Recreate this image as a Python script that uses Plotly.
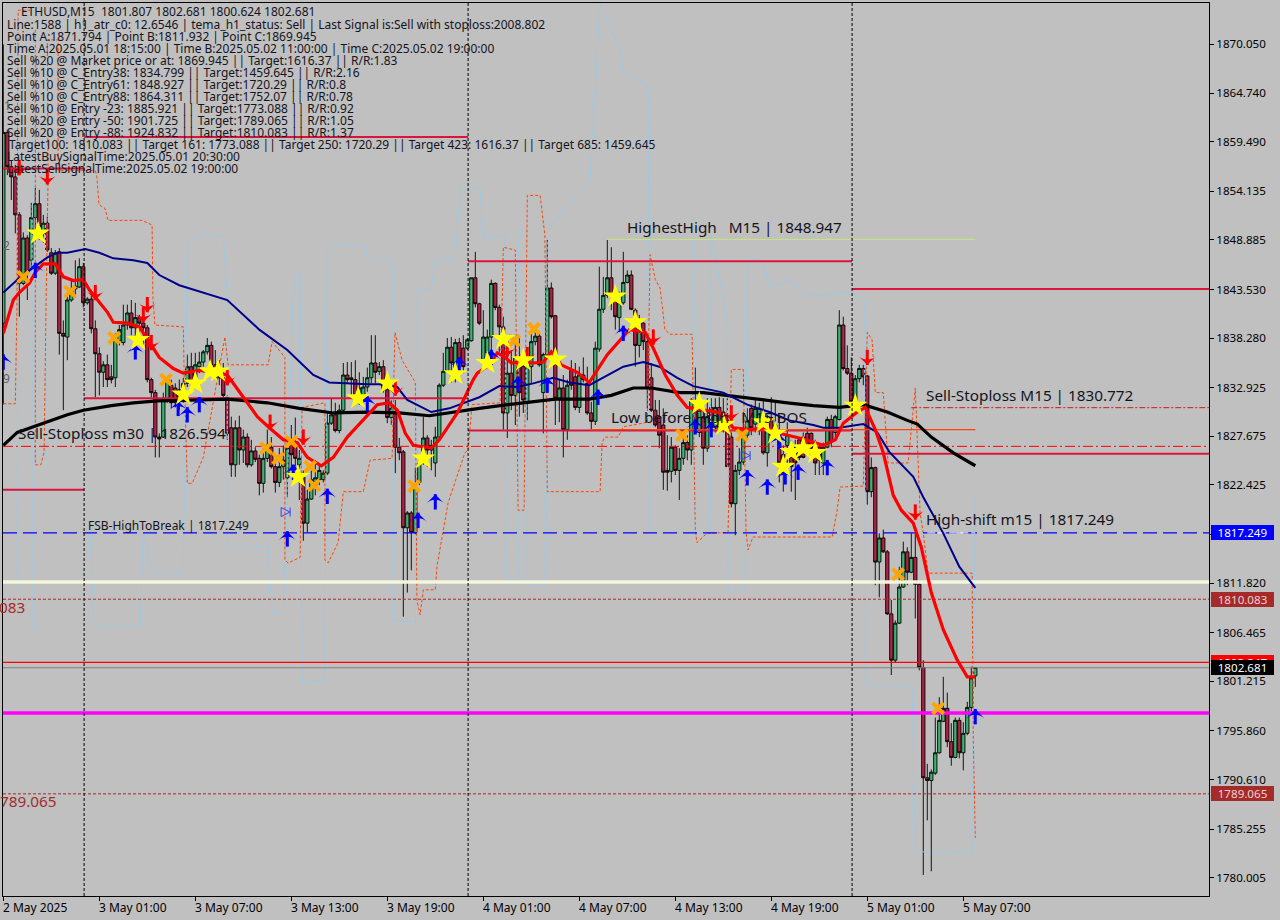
import plotly.graph_objects as go

opens=[1839.9,1860.5,1856.8,1855.7,1851.6,1844.2,1849.1,1846.7,1851.3,1852.8,1849.6,1850.7,1847.5,1845.3,1847.6,1838.8,1838.4,1842.4,1843.6,1843.8,
1846.0,1842.1,1842.5,1839.3,1836.6,1834.6,1835.4,1834.1,1834.0,1838.0,1837.8,1839.7,1841.0,1839.4,1840.5,1839.9,1839.4,1833.8,1832.4,1827.6,
1827.6,1831.6,1833.2,1832.9,1832.7,1831.6,1833.4,1835.2,1834.0,1835.2,1835.7,1836.8,1837.5,1835.4,1834.8,1834.0,1831.8,1828.6,1824.6,1828.6,
1826.2,1827.6,1824.6,1826.1,1825.3,1822.6,1825.3,1826.5,1824.4,1822.7,1824.4,1823.2,1827.3,1826.5,1824.6,1823.3,1818.3,1820.9,1822.4,1823.0,
1823.0,1823.7,1829.1,1830.0,1828.3,1830.5,1834.3,1833.8,1833.8,1831.8,1832.0,1833.0,1834.0,1835.6,1834.7,1835.2,1832.7,1829.7,1830.2,1826.5,
1826.0,1817.8,1819.4,1817.3,1822.7,1824.8,1827.5,1826.2,1824.8,1827.6,1833.2,1834.7,1837.3,1834.6,1837.8,1837.2,1837.2,1838.0,1844.8,1842.0,
1835.9,1836.7,1838.4,1844.2,1841.6,1839.5,1830.2,1834.5,1832.1,1836.2,1835.2,1831.3,1835.2,1837.9,1838.5,1832.4,1836.5,1843.7,1840.7,1831.8,
1832.9,1828.4,1834.8,1834.1,1830.8,1834.3,1833.4,1830.2,1829.3,1837.1,1841.4,1842.9,1844.8,1842.8,1840.5,1842.1,1844.3,1845.1,1841.3,1837.5,
1839.9,1837.9,1834.0,1830.5,1829.8,1828.9,1824.0,1823.9,1826.5,1824.0,1825.3,1827.0,1826.2,1830.7,1828.1,1829.8,1826.4,1830.8,1828.7,1830.8,
1828.7,1829.2,1827.6,1820.4,1824.0,1824.9,1827.8,1830.7,1829.0,1829.2,1829.4,1825.9,1829.7,1828.1,1828.1,1825.7,1826.7,1825.4,1826.5,1827.3,
1827.6,1828.0,1828.0,1826.4,1826.5,1824.8,1826.5,1829.5,1828.1,1829.5,1839.7,1835.0,1834.5,1831.3,1833.9,1835.0,1834.2,1821.7,1824.3,1814.1,
1816.7,1815.2,1808.5,1803.5,1807.5,1811.4,1815.2,1813.0,1814.6,1811.7,1802.7,1790.8,1790.5,1791.3,1793.5,1796.9,1798.3,1794.7,1793.0,1797.0,
1793.5,1795.6,1798.4,1801.8]
highs=[1870.0,1860.8,1857.5,1857.0,1851.9,1849.7,1849.4,1852.9,1854.5,1854.3,1851.6,1851.4,1848.0,1847.8,1848.0,1840.2,1843.2,1844.6,1846.7,1846.9,
1846.4,1842.7,1843.5,1840.2,1837.3,1835.8,1836.5,1835.4,1838.8,1839.7,1841.9,1841.9,1842.4,1842.1,1840.8,1840.5,1839.7,1834.0,1832.7,1828.0,
1832.4,1834.1,1833.8,1833.4,1833.8,1834.0,1836.5,1836.7,1836.7,1836.8,1837.0,1838.3,1837.9,1837.0,1835.9,1835.6,1832.1,1829.8,1829.4,1829.9,
1828.4,1828.0,1827.3,1826.5,1825.7,1826.4,1828.4,1827.6,1825.1,1826.4,1826.7,1827.0,1828.9,1829.7,1826.2,1824.0,1821.9,1824.0,1825.1,1824.6,
1824.0,1830.3,1831.8,1831.3,1831.1,1835.6,1835.7,1835.7,1835.9,1834.6,1834.1,1835.1,1838.6,1838.6,1835.7,1835.9,1834.5,1831.6,1831.6,1827.5,
1826.2,1819.6,1819.6,1824.3,1825.1,1829.8,1827.8,1827.3,1828.7,1833.4,1836.7,1838.3,1838.4,1838.2,1838.3,1838.6,1838.3,1844.8,1847.6,1842.1,
1841.3,1839.2,1844.6,1844.3,1841.9,1840.6,1836.7,1837.0,1838.4,1838.4,1836.7,1836.7,1838.8,1839.5,1838.8,1836.7,1848.9,1844.3,1840.8,1833.8,
1834.3,1833.8,1835.9,1835.6,1835.2,1836.2,1835.2,1831.4,1837.9,1846.0,1844.9,1848.9,1848.1,1843.5,1843.3,1847.6,1845.6,1845.6,1841.5,1840.8,
1840.0,1838.4,1835.6,1831.6,1831.6,1830.7,1827.8,1827.6,1826.7,1826.4,1827.8,1827.8,1831.8,1835.1,1832.1,1831.6,1831.8,1831.8,1831.8,1831.9,
1831.8,1831.8,1828.1,1824.6,1826.4,1830.3,1830.7,1831.1,1831.8,1831.3,1831.8,1830.0,1831.9,1831.6,1829.7,1826.7,1829.2,1827.3,1827.3,1827.6,
1828.1,1828.6,1828.1,1827.3,1826.7,1827.0,1829.8,1830.0,1830.0,1841.3,1840.6,1837.5,1836.2,1834.3,1835.4,1835.4,1834.3,1825.4,1824.4,1817.2,
1817.6,1815.4,1810.0,1807.8,1813.6,1816.3,1815.7,1817.2,1817.2,1811.9,1803.5,1792.3,1791.7,1797.3,1799.5,1801.7,1800.0,1796.7,1797.3,1797.3,
1796.8,1799.0,1802.8,1802.7]
lows=[1831.1,1855.9,1853.2,1849.6,1840.6,1844.0,1842.4,1845.9,1849.2,1848.9,1848.6,1847.6,1845.1,1845.1,1836.5,1830.5,1835.9,1842.2,1842.7,1843.7,
1841.6,1841.9,1838.8,1831.9,1832.1,1833.0,1833.0,1833.4,1833.0,1837.5,1837.5,1839.2,1838.6,1838.1,1838.6,1837.5,1833.5,1831.9,1825.4,1825.4,
1827.5,1831.3,1830.7,1830.8,1830.5,1831.3,1833.0,1833.0,1833.8,1834.5,1835.2,1836.5,1835.2,1833.8,1833.2,1831.9,1827.3,1823.3,1823.3,1824.6,
1824.8,1824.3,1824.4,1824.9,1821.3,1821.6,1824.9,1824.2,1821.6,1822.2,1823.0,1821.1,1824.0,1824.4,1820.8,1816.4,1817.3,1820.8,1821.3,1822.4,
1822.7,1823.5,1828.9,1828.1,1828.0,1830.3,1833.4,1832.1,1831.4,1831.1,1831.1,1832.5,1833.4,1833.4,1834.3,1832.4,1829.1,1828.9,1823.7,1825.1,
1808.2,1810.8,1813.2,1817.1,1822.4,1824.6,1824.4,1824.0,1823.3,1827.4,1833.0,1834.6,1833.5,1833.5,1834.5,1834.5,1837.0,1837.9,1841.6,1839.7,
1835.7,1836.5,1836.2,1841.3,1836.8,1828.4,1827.5,1830.5,1828.9,1829.8,1830.2,1829.4,1833.4,1837.5,1835.2,1828.0,1836.2,1840.4,1828.9,1829.2,
1825.4,1827.3,1832.7,1830.5,1830.2,1833.5,1830.0,1828.4,1828.9,1836.8,1841.0,1842.6,1841.3,1839.2,1839.0,1841.9,1844.2,1841.3,1835.2,1836.2,
1837.0,1830.7,1830.3,1828.7,1826.4,1821.9,1821.8,1822.7,1823.5,1820.8,1824.6,1825.1,1824.6,1828.0,1827.6,1824.6,1826.0,1828.1,1828.1,1828.1,
1828.1,1824.4,1820.0,1817.0,1823.5,1824.6,1827.5,1827.8,1828.1,1827.8,1825.7,1824.4,1827.5,1827.3,1822.7,1821.7,1824.0,1821.7,1820.8,1825.1,
1825.3,1826.3,1825.9,1823.5,1823.5,1823.5,1826.4,1826.5,1827.3,1829.4,1834.8,1834.3,1831.3,1831.1,1833.5,1833.2,1820.3,1821.1,1811.6,1810.3,
1815.1,1808.4,1801.9,1803.3,1807.4,1811.3,1811.6,1812.9,1808.0,1802.4,1780.3,1786.2,1780.7,1791.1,1793.4,1796.8,1794.1,1792.1,1792.9,1792.9,
1791.6,1795.4,1798.0,1800.6]
closes=[1860.5,1856.8,1855.7,1851.6,1844.2,1849.1,1845.3,1851.3,1852.8,1850.3,1850.7,1847.8,1845.3,1847.5,1838.8,1838.5,1842.4,1843.5,1843.9,1846.0,
1842.1,1842.5,1839.3,1836.6,1834.6,1835.4,1833.8,1833.8,1838.1,1839.2,1839.7,1841.0,1839.4,1840.5,1839.9,1839.4,1833.8,1832.4,1827.6,1827.4,
1831.6,1833.8,1831.3,1831.3,1831.4,1833.4,1835.2,1833.4,1835.4,1835.7,1836.8,1837.5,1835.4,1834.0,1834.0,1832.1,1828.0,1824.6,1828.6,1826.2,
1827.6,1824.6,1826.1,1825.2,1822.6,1825.3,1826.7,1824.4,1822.7,1824.4,1825.1,1826.4,1825.7,1825.3,1825.3,1818.3,1820.9,1823.0,1823.2,1824.0,
1823.7,1829.1,1830.0,1828.3,1830.5,1834.3,1833.8,1834.0,1831.8,1832.9,1833.0,1834.0,1835.6,1834.6,1835.2,1832.7,1829.7,1830.7,1826.5,1825.9,
1817.8,1819.4,1817.3,1822.1,1824.8,1827.5,1826.2,1826.7,1827.6,1833.2,1834.7,1837.3,1835.6,1837.8,1835.6,1835.2,1838.1,1844.8,1842.0,1839.9,
1838.4,1838.4,1844.2,1841.6,1839.5,1830.2,1834.5,1832.1,1836.2,1832.4,1831.6,1835.2,1837.9,1838.5,1835.4,1836.5,1843.7,1840.6,1831.8,1832.9,
1828.4,1833.2,1833.2,1830.8,1834.3,1833.8,1830.2,1829.3,1837.2,1841.4,1842.9,1844.8,1842.8,1840.6,1842.1,1844.3,1845.1,1841.4,1837.5,1839.2,
1837.9,1832.9,1830.5,1828.9,1827.8,1823.8,1823.8,1826.5,1824.0,1825.3,1827.0,1826.2,1831.6,1828.1,1830.5,1826.4,1829.8,1828.7,1830.8,1828.6,
1830.3,1824.4,1820.4,1824.0,1824.9,1827.8,1829.4,1828.6,1830.7,1830.7,1825.9,1828.6,1827.8,1828.9,1824.8,1823.7,1827.8,1824.4,1824.8,1825.4,
1825.4,1826.5,1826.4,1824.8,1825.1,1826.5,1829.5,1827.1,1829.8,1839.7,1835.0,1834.5,1831.4,1833.9,1835.0,1834.1,1821.7,1824.3,1814.1,1816.7,
1815.2,1808.5,1803.5,1807.5,1811.4,1815.2,1813.0,1814.6,1811.7,1802.7,1790.8,1790.5,1791.4,1793.5,1797.0,1798.3,1794.7,1793.0,1797.0,1793.5,
1795.6,1798.4,1801.6,1802.7]
candle_index=list(range(len(opens)))

red_k=[0,2.5,4,6.5,8,10,13,15,17.5,20,21.5,23.5,26,27.5,31,34,36.5,39,42.5,45,49,52.5,56,60,63.5,66.5,70,73.5,76,79.5,82.5,86,90,93.5,96.5,98.5,100.5,102.5,107,109,113.5,117.5,118.5,121.5,123.5,125.5,127,129.5,132.5,135,137,139.5,143.5,146.5,151,154.5,156.5,160.5,162.5,165.5,168.5,171,175,179.5,182.5,186.5,191,194,199,205,208,210,213.5,215.5,218,220,222.5,224.5,227.5,229.5,232,235,238.5,241,243]
red_v=[1838.8,1842.4,1843.2,1844.2,1845.4,1846.3,1846.3,1844.9,1844.5,1844.6,1843.5,1842.4,1841.1,1840.0,1839.9,1839.5,1837.9,1836.2,1835.0,1834.5,1834.8,1834.6,1834.3,1831.9,1829.8,1828.6,1827.3,1827.0,1825.4,1824.5,1825.4,1827.6,1829.4,1831.1,1831.3,1830.5,1828.0,1826.7,1826.4,1827.3,1830.2,1833.8,1834.5,1835.4,1836.7,1836.2,1835.6,1835.7,1835.6,1835.7,1836.8,1835.4,1834.6,1833.5,1836.5,1838.3,1839.2,1838.9,1837.2,1834.3,1832.1,1830.8,1830.5,1830.2,1828.6,1828.4,1828.6,1828.0,1827.5,1826.7,1827.3,1829.1,1830.3,1830.8,1828.4,1825.9,1821.3,1819.7,1818.3,1815.7,1810.8,1806.8,1803.5,1801.7,1801.7]
navy_k=[0,3.5,7.5,11,13.5,16,20.5,24,27.5,32.5,36,39,44,49,56,64,71,77.5,81.5,91,94,98.5,101,107,111.5,119,124,128.5,132.5,137.5,141.5,146.5,151,155,160,164,168.5,172.5,180,186,191.5,196.5,202.5,205,209,215,218.5,221.5,227.5,230,235,239,243]
navy_v=[1843.2,1844.6,1845.9,1847.0,1847.5,1847.5,1847.9,1847.5,1846.9,1846.7,1846.4,1845.1,1844.0,1843.3,1842.4,1839.2,1837.0,1834.3,1833.5,1833.3,1833.3,1833.0,1831.6,1830.3,1830.7,1831.9,1833.1,1833.0,1833.4,1834.0,1833.5,1833.2,1834.3,1835.2,1835.7,1835.2,1834.0,1833.1,1832.4,1831.1,1830.3,1829.4,1828.9,1828.6,1828.6,1829.0,1828.1,1826.0,1823.3,1821.1,1817.2,1813.6,1811.3]
black_k=[0,3.5,10,16,20,27,32.5,38.5,49,56,66,74,82.5,91,99,106.5,119,124,130,138,146.5,152,157.5,162,169,175,186,196,202.5,209,215,221,226,228.5,232,237.5,243]
black_v=[1826.7,1828.1,1829.1,1830.0,1830.5,1831.0,1831.3,1831.5,1831.6,1831.7,1831.3,1830.7,1830.2,1830.3,1830.2,1829.9,1830.7,1831.0,1831.3,1831.7,1831.7,1832.1,1832.9,1832.9,1832.4,1832.4,1831.8,1831.3,1831.0,1830.8,1831.1,1830.3,1829.4,1829.0,1827.6,1825.9,1824.5]

cyan_k=[3.4,3.7,None,7.2,7.2,None,10.4,10.7,None,21.7,22.7,34.2,35,36,37.2,45,45.7,46,48.4,55,56,56,66.2,67.2,70,72.4,73.2,74.2,74.7,80.4,81,90,91,97.2,97.2,103,103.7,107,108,113,114.2,119.2,120,125.4,125.7,128.7,128.7,130.7,131,135.7,136,146.7,149.2,154.2,155,161.2,161.7,None,172.7,172.7,176.7,177,181,181.2,185.4,186,190,191.7,197.4,199.2,203.4,211.7,215.2,215.7,227.2,228,242.2,242.5,243]
cyan_v=[1871.6,1811.1,None,1870.5,1806.8,None,1870.5,1825.1,None,1817.2,1807.1,1807.1,1817.2,1815.7,1812.9,1812.9,1842.4,1848.6,1849.4,1849.4,1842.4,1815.7,1815.7,1808.6,1808.6,1842.4,1845.3,1845.3,1801.0,1801.4,1848.3,1848.3,1846.9,1846.9,1807.8,1807.6,1843.5,1843.7,1846.7,1846.7,1854.5,1854.5,1848.9,1849.4,1812.2,1812.2,1850.0,1850.0,1811.6,1811.6,1850.0,1855.4,1874.5,1869.4,1867.0,1865.6,1817.6,None,1849.0,1817.2,1817.2,1849.4,1840.2,1811.1,1811.1,1847.3,1846.4,1843.8,1844.6,1843.2,1842.9,1843.3,1842.4,1800.8,1800.8,1782.8,1782.8,1797.0,1821.1]
orange_k=[0,3,3.4,3.7,6.7,None,8,8,9.4,10.2,10.7,11.2,11,13.7,13.7,23,23.4,23.9,25.4,26.2,34.7,37.2,37.4,37.9,45,45.2,46,47.2,50,55.4,56.2,66.2,67.2,70.4,70.4,71.2,74.2,74.7,80.4,80.4,81.2,83.7,85,90,91.7,97.2,97.9,99.7,103,103.4,104.2,105,108,108.4,111.2,115.4,116.2,117.2,124.2,125,128,128.7,130.2,131,134.2,135.4,136,149.2,149.7,150.4,153.7,155,161,161.7,163,164.2,165.4,166.7,172.2,173,173.4,175.9,181.2,182,185,185.7,186.2,187.4,207.2,208.4,209.2,215,216,217.2,218,220,221.2,226.2,228,229.2,230,231.2,242.2,242.5,243]
orange_v=[1831.2,1831.2,1841.6,1873.7,1873.7,None,1871.6,1824.6,1824.6,1826.0,1842.4,1855.9,1870.5,1870.5,1856.4,1856.4,1855.7,1852.7,1852.3,1851.0,1851.0,1850.5,1842.7,1839.7,1839.5,1834.8,1822.6,1822.6,1825.4,1838.4,1835.4,1835.4,1837.9,1836.2,1814.3,1814.0,1814.6,1830.8,1831.3,1814.3,1814.0,1816.2,1821.7,1821.7,1825.1,1825.3,1838.9,1835.9,1833.5,1810.0,1808.4,1811.1,1811.1,1813.6,1820.5,1825.9,1826.2,1831.1,1831.3,1848.1,1847.8,1819.7,1819.7,1853.7,1853.7,1849.4,1821.7,1821.7,1827.0,1827.6,1827.6,1828.7,1829.2,1847.3,1844.6,1843.7,1839.2,1838.7,1838.7,1817.6,1816.2,1817.2,1817.3,1834.9,1834.9,1817.3,1815.4,1816.8,1816.8,1819.5,1822.2,1822.3,1838.9,1838.1,1832.4,1832.4,1824.8,1824.8,1832.9,1819.4,1817.2,1812.9,1812.9,1794.9,1784.3]

star_k=[8.7,33.7,48,45,51.7,53.7,73.7,88.7,96,105,113,121,125,130,138,153,158,174,180,190,193,197,195,200,203,213]
star_v=[1849.6,1838.1,1833.4,1832.2,1834.7,1834.7,1823.3,1831.8,1833.4,1825.3,1834.4,1835.6,1838.2,1835.9,1836.0,1842.8,1840.0,1831.2,1828.9,1829.2,1828.0,1826.0,1824.4,1826.4,1825.9,1831.0]
cross_k=[5,16.7,27.7,40.7,65.7,68.7,72,76.7,77.7,102.7,127.7,132.7,169.7,184.7,223.7,233.7]
cross_v=[1844.9,1843.3,1838.3,1833.8,1826.4,1825.3,1827.1,1824.4,1822.4,1822.3,1838.0,1839.3,1827.8,1827.8,1812.8,1798.3]
up_k=[0,8,33,43.7,46,49,71,72.5,81,91,103.7,108,114,122,128.7,136,148.7,155,173,177,186,191,194,195.5,198.7,206,243]
up_v=[1835.7,1845.6,1836.8,1830.7,1830.0,1831.1,1816.6,1823.8,1821.2,1831.2,1818.6,1820.6,1835.4,1836.2,1833.3,1833.2,1831.9,1838.8,1828.7,1828.4,1823.2,1822.2,1827.1,1823.3,1823.8,1824.3,1797.4]
down_k=[4,11,23,36,35,37,56,66.7,75,98,126,131,162.5,182,216,228]
down_v=[1856.7,1855.7,1843.2,1841.9,1840.8,1837.8,1834.0,1829.2,1827.6,1832.9,1837.1,1836.5,1838.4,1830.2,1836.2,1819.5]
hollow_k=[71.7,186.7]
hollow_v=[1819.5,1825.6]

XMIN,XMAX=-0.08,301.43
YMIN,YMAX=1778.03,1874.48
crimson_levels=[(20.2,116.2,1860.0),(XMIN,20.2,1856.6),(20.2,116.2,1831.8),(XMIN,20.2,1821.9),(116.2,212.2,1846.6),(116.2,212.2,1828.3),(212.2,XMAX,1843.6),(212.2,XMAX,1825.8)]
separator_k=[20.2,116.2,212.2]

ytick_vals=[1870.05,1864.74,1859.49,1854.135,1848.885,1843.53,1838.28,1832.925,1827.675,1822.425,1817.07,1811.82,1806.465,1801.215,1795.86,1790.61,1785.255,1780.005]
ytick_text=["1870.050","1864.740","1859.490","1854.135","1848.885","1843.530","1838.280","1832.925","1827.675","1822.425","","1811.820","1806.465","1801.215","1795.860","1790.610","1785.255","1780.005"]
xtick_k=[0,24,48,72,96,120,144,168,192,216,240]
xtick_text=["2 May 2025","3 May 01:00","3 May 07:00","3 May 13:00","3 May 19:00","4 May 01:00","4 May 07:00","4 May 13:00","4 May 19:00","5 May 01:00","5 May 07:00"]

info_lines=["Line:1588 | h1_atr_c0: 12.6546 | tema_h1_status: Sell | Last Signal is:Sell with stoploss:2008.802",
"Point A:1871.794 | Point B:1811.932 | Point C:1869.945",
"Time A:2025.05.01 18:15:00 | Time B:2025.05.02 11:00:00 | Time C:2025.05.02 19:00:00",
"Sell %20 @ Market price or at: 1869.945 || Target:1616.37 || R/R:1.83",
"Sell %10 @ C_Entry38: 1834.799 || Target:1459.645 || R/R:2.16",
"Sell %10 @ C_Entry61: 1848.927 || Target:1720.29 || R/R:0.8",
"Sell %10 @ C_Entry88: 1864.311 || Target:1752.07 || R/R:0.78",
"Sell %10 @ Entry -23: 1885.921 || Target:1773.088 || R/R:0.92",
"Sell %20 @ Entry -50: 1901.725 || Target:1789.065 || R/R:1.05",
"Sell %20 @ Entry -88: 1924.832 || Target:1810.083 || R/R:1.37",
"Target100: 1810.083 || Target 161: 1773.088 || Target 250: 1720.29 || Target 423: 1616.37 || Target 685: 1459.645",
"LatestBuySignalTime:2025.05.01 20:30:00",
"LatestSellSignalTime:2025.05.02 19:00:00"]

FONT="Noto Sans"
SMALL=12
AXIS=11.6
BIG=15.3
INK="#14141e"
PL,PR,PT,PB=3,1209,3,896
def px(x): return (x-PL)/(PR-PL)
def py(y): return 1-(y-PT)/(PB-PT)

fig=go.Figure()
def line(k,v,color,width,dash="solid"):
    fig.add_trace(go.Scatter(x=k,y=v,mode="lines",line=dict(color=color,width=width,dash=dash),hoverinfo="skip",showlegend=False,connectgaps=False))

line(cyan_k,cyan_v,"#87CEFA",1,"3px,2px")
line(orange_k,orange_v,"#FF4500",1,"3px,2px")

fig.add_trace(go.Candlestick(x=candle_index,open=opens,high=highs,low=lows,close=closes,
    increasing=dict(line=dict(color="black",width=0.9),fillcolor="#3CB371"),
    decreasing=dict(line=dict(color="black",width=0.9),fillcolor="#B22245"),
    whiskerwidth=0,hoverinfo="skip",showlegend=False))

for x0,x1,v in crimson_levels:
    line([x0,x1],[v,v],"#DC143C",2)
line([XMIN,XMAX],[1826.594,1826.594],"#FF0000",1,"10px,3px,2px,3px")
line([227,XMAX],[1830.772,1830.772],"#C81E1E",1,"6px,2px,2px,2px")
line([146.6,243],[1828.4,1828.4],"#FF4500",1.2)
line([150.9,243],[1848.947,1848.947],"#C8E678",1)
line([XMIN,XMAX],[1817.249,1817.249],"#0000FF",1.2,"14px,6px")
line([231,243],[1817.249,1817.249],"#FFFFFF",1,"8px,3px")
line([XMIN,XMAX],[1811.932,1811.932],"#F5F5DC",3.5)
line([XMIN,XMAX],[1810.083,1810.083],"#A52A2A",1,"3px,2px")
line([XMIN,XMAX],[1803.27,1803.27],"#FF0000",1.2)
line([XMIN,XMAX],[1802.681,1802.681],"#808080",1)
line([XMIN,XMAX],[1797.8,1797.8],"#FF00FF",3.5)
line([XMIN,XMAX],[1789.065,1789.065],"#A52A2A",1,"3px,2px")

line(black_k,black_v,"#000000",3.2)
line(navy_k,navy_v,"#00008B",2)
line(red_k,red_v,"#FF0000",3.2)

def marks(k,v,symbol,color,size,lw=0,angle=0):
    fig.add_trace(go.Scatter(x=k,y=v,mode="markers",marker=dict(symbol=symbol,color=color,size=size,angle=angle,line=dict(color=color,width=lw)),hoverinfo="skip",showlegend=False))
HEAD=0.8
marks(up_k,up_v,"line-ns","#0000FF",11,3)
marks(up_k,[v+HEAD for v in up_v],"arrow-wide","#0000FF",13)
marks(down_k,down_v,"line-ns","#FF0000",11,3)
marks(down_k,[v-HEAD for v in down_v],"arrow-wide","#FF0000",13,0,180)
marks(hollow_k,hollow_v,"arrow-bar-right-open","#3C3CFF",9,1)
marks(cross_k,cross_v,"x-thin","#FFA500",11,4)
marks(star_k,star_v,"star","#FFFF00",18)

ann=[]
def text(x,y,s,size=SMALL,color=INK,anchor="left"):
    ann.append(dict(x=px(x),y=py(y),xref="paper",yref="paper",text=s,showarrow=False,xanchor=anchor,yanchor="middle",font=dict(family=FONT,size=size,color=color),borderpad=0,borderwidth=0))

text(21,11.7,"ETHUSD,M15  1801.807 1802.681 1800.624 1802.681")
for i,s in enumerate(info_lines):
    text(7 if i!=10 else 9,24.7+12*i,s)
text(627,227,"HighestHigh   M15 | 1848.947",BIG)
text(18,433,"Sell-Stoploss m30 | 1826.594",BIG)
text(88,525,"FSB-HighToBreak | 1817.249",SMALL)
text(611,417,"Low before High   M15 BOS",BIG)
text(926,395,"Sell-Stoploss M15 | 1830.772",BIG)
text(926,519,"High-shift m15 | 1817.249",BIG)
text(-1,607,"083",BIG,"#A52A2A")
text(0,801,"789.065",BIG,"#A52A2A")
text(3,246,"2",SMALL,"#606060")
text(3,378,"9",SMALL,"#606060")
text(4,105,"1",SMALL,"#606060")

for k,s in zip(xtick_k,xtick_text):
    ann.append(dict(x=k,y=-11/(PB-PT),xref="x",yref="paper",text=s,showarrow=False,xanchor="left",yanchor="middle",font=dict(family=FONT,size=SMALL,color="#000000"),borderpad=0,borderwidth=0))

def tag(v,s,bg,fg):
    ann.append(dict(x=1+2/(PR-PL),y=v,xref="paper",yref="y",text=s,showarrow=False,xanchor="left",yanchor="middle",bgcolor=bg,font=dict(family=FONT,size=AXIS,color=fg),borderpad=0,borderwidth=0,width=63,height=15,align="center"))
tag(1817.249,"1817.249","#0000FF","#FFFFFF")
tag(1810.083,"1810.083","#A52A2A","#F0D0D0")
tag(1789.065,"1789.065","#A52A2A","#F0D0D0")
tag(1803.247,"1803.247","#FF0000","#FFFFFF")
tag(1802.681,"1802.681","#000000","#FFFFFF")

shapes=[dict(type="line",xref="x",yref="paper",x0=k,x1=k,y0=0,y1=1,line=dict(color="black",width=1,dash="3px,2px")) for k in separator_k]

fig.update_layout(width=1280,height=920,margin=dict(l=PL,r=1280-PR,t=PT,b=920-PB,pad=0),
    paper_bgcolor="#C0C0C0",plot_bgcolor="#C0C0C0",showlegend=False,annotations=ann,shapes=shapes,
    font=dict(family=FONT,size=AXIS,color="#000000"),boxgap=0.18,boxgroupgap=0,
    xaxis=dict(range=[XMIN,XMAX],showgrid=False,zeroline=False,tickmode="array",tickvals=xtick_k,ticktext=xtick_text,showticklabels=False,ticks="outside",ticklen=4,tickcolor="black",
        showline=True,linecolor="black",linewidth=1,mirror=True,rangeslider=dict(visible=False)),
    yaxis=dict(range=[YMIN,YMAX],side="right",showgrid=False,zeroline=False,tickmode="array",tickvals=ytick_vals,ticktext=ytick_text,ticks="outside",ticklen=4,tickcolor="black",
        showline=True,linecolor="black",linewidth=1,mirror=True,tickfont=dict(family=FONT,size=AXIS,color="#000000")))

fig.write_html("out.html",config=dict(displayModeBar=False),post_script="document.body.style.margin='0';document.documentElement.style.background='#C0C0C0';")
